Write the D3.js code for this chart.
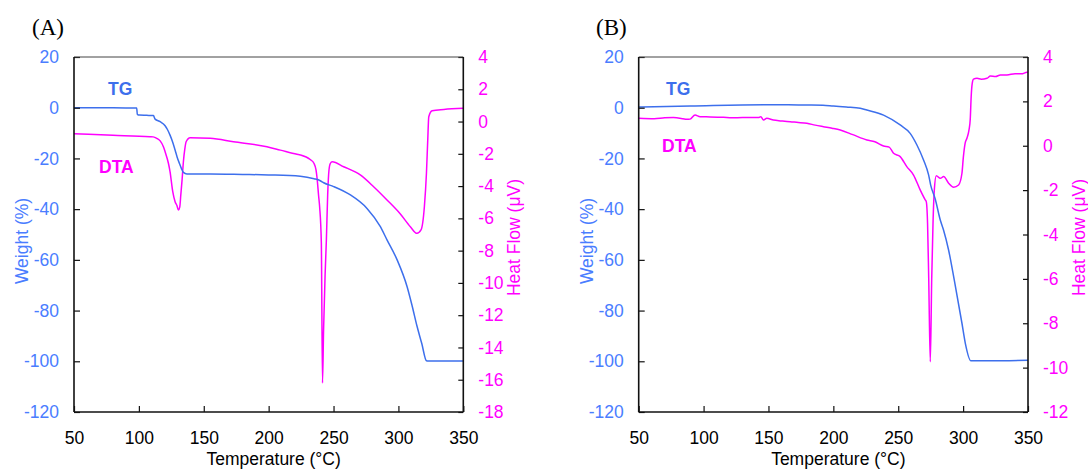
<!DOCTYPE html>
<html>
<head>
<meta charset="utf-8">
<script src="https://cdn.jsdelivr.net/npm/d3@7"></script>
<style>
  html, body { margin: 0; padding: 0; background: #fff; }
  svg { display: block; }
</style>
</head>
<body>
<svg id="chart" width="1088" height="473"></svg>
<script>
// ---- shared ticks ----
const tempTicks = [50, 100, 150, 200, 250, 300, 350];
const weightTicks = [20, 0, -20, -40, -60, -80, -100, -120];
const heatTicksA = [4, 2, 0, -2, -4, -6, -8, -10, -12, -14, -16, -18];
const heatTicksB = [4, 2, 0, -2, -4, -6, -8, -10, -12];

// ---- panel A: TG (weight %) ----
const aTgTemp = [50, 70, 90, 98.3, 98.8, 100.4, 106, 111.2, 112.5, 116.4, 120.2, 122, 124, 126, 127.9, 129.5, 131.2, 132.8, 134.3, 137, 155, 180, 200, 224.4, 235, 239.8, 242.4, 250.1, 263, 275.8, 286.1, 291.2, 299, 306.7, 310.5, 314.4, 318, 321.6, 323, 335, 350];
const aTgWeight = [0, 0, -0.1, -0.1, -2.6, -2.9, -3.0, -3.1, -4.5, -5.5, -7.1, -8.6, -10.8, -13.5, -16.7, -19.5, -21.9, -24, -25.5, -26.1, -26.1, -26.3, -26.5, -27.0, -28.0, -28.8, -29.6, -31.1, -34.4, -39.7, -46.9, -52.1, -60, -70.6, -78, -86.3, -93, -99.8, -99.9, -99.9, -99.9];

// ---- panel A: DTA (heat flow, µV) ----
const aDtaTemp = [50, 80, 108.6, 111, 113.8, 116.4, 118.9, 120.2, 122.8, 124, 126.1, 127.9, 129.3, 130.5, 131.5, 132.3, 133.3, 134.3, 135.4, 136.4, 139.5, 155, 172.9, 198.7, 209, 221.8, 224.4, 232, 235, 236.5, 237.3, 238.5, 239.3, 240.6, 241.5, 242.3, 243.5, 244.5, 245.5, 246.5, 247.5, 249, 257.8, 270.6, 280.9, 291.2, 301.5, 309.2, 314.3, 317.4, 320, 321.6, 322.6, 323.4, 326, 335, 350];
const aDtaHeat = [-0.76, -0.85, -0.94, -0.95, -1.04, -1.2, -1.56, -1.87, -2.6, -3.1, -4.35, -4.97, -5.2, -5.48, -5.3, -4.55, -3.6, -2.49, -1.7, -1.25, -1.0, -1.04, -1.25, -1.56, -1.77, -2.03, -2.07, -2.35, -2.6, -3.0, -3.5, -4.6, -5.3, -7.5, -16.2, -13, -9.5, -7.3, -4.5, -3.0, -2.6, -2.49, -2.8, -3.31, -4.04, -4.86, -5.73, -6.52, -6.93, -6.72, -5.28, -3.2, -1.15, 0.3, 0.67, 0.75, 0.82];

// ---- panel B: TG (weight %) ----
const bTgTemp = [50, 90, 150, 175, 192, 200, 210, 220.7, 225.8, 238.7, 251.5, 259.2, 264.4, 269.5, 273.4, 275, 278.5, 282.4, 284.9, 288.8, 293.2, 299.1, 301.7, 306, 320, 350];
const bTgWeight = [0.3, 0.7, 1.2, 1.06, 1.0, 0.67, 0.3, -0.2, -0.9, -2.9, -6.8, -10.1, -14.7, -20.6, -26.5, -30.5, -36.0, -44.3, -48.2, -56.1, -68, -85, -92.9, -99.8, -99.8, -99.6];

// ---- panel B: DTA (heat flow, µV) ----
const bDtaTemp = [50, 62, 70, 76.7, 84, 87, 89.6, 93.4, 97.3, 105, 115.3, 122, 130, 142.3, 144.1, 146.2, 148.7, 153.8, 160, 166.7, 173, 179.6, 186, 192.4, 199, 205.3, 215, 225.8, 232, 238.7, 243, 246.4, 251.5, 256.6, 261.8, 266.9, 270.8, 271.6, 272.6, 273.5, 274.7, 275.8, 276.8, 277.8, 279.3, 282.4, 285, 288.8, 292.7, 296.5, 299.1, 300.2, 301.5, 303, 304.5, 305.5, 306.2, 307, 308, 310.7, 314, 318.4, 321, 325, 328.7, 333.8, 340, 345, 349.2, 350];
const bDtaHeat = [1.24, 1.22, 1.26, 1.27, 1.22, 1.19, 1.2, 1.39, 1.31, 1.3, 1.28, 1.26, 1.27, 1.27, 1.31, 1.16, 1.24, 1.16, 1.12, 1.08, 1.05, 1.01, 0.93, 0.86, 0.79, 0.71, 0.5, 0.26, 0.18, -0.01, -0.06, -0.34, -0.49, -0.94, -1.32, -1.99, -2.44, -2.52, -3.5, -6.0, -9.73, -6.0, -3.5, -2.0, -1.35, -1.47, -1.39, -1.69, -1.87, -1.77, -1.24, -0.5, 0.1, 0.35, 0.7, 1.2, 2.2, 2.8, 3.0, 3.04, 3.0, 3.04, 3.14, 3.12, 3.19, 3.19, 3.25, 3.24, 3.31, 3.3];

// ---- style ----
const tgColor = "#3d6fec";
const tgText = "#4a7dff";
const dtaColor = "#ff00ff";
const fontSize = 17.5;
const sans = '"Liberation Sans", Arial, sans-serif';
const serif = '"Liberation Serif", "Times New Roman", serif';

const svg = d3.select("#chart");

const plotTop = 57, plotHeight = 355, plotWidth = 389.3;
const plainNum = d => String(d);   // hyphen-minus, as in the original plots

function drawPanel(opts) {
  const left = opts.left;
  const right = left + plotWidth;
  const bottom = plotTop + plotHeight;
  const g = svg.append("g");

  const x = d3.scaleLinear().domain([50, 350]).range([left, right]);
  const yW = d3.scaleLinear().domain([-120, 20]).range([bottom, plotTop]);
  const yH = d3.scaleLinear().domain(opts.heatDomain).range([bottom, plotTop]);

  // curves
  const tgLine = d3.line().curve(d3.curveMonotoneX)
    .x((d, i) => x(opts.tgTemp[i])).y(d => yW(d));
  const dtaLine = d3.line().curve(d3.curveMonotoneX)
    .x((d, i) => x(opts.dtaTemp[i])).y(d => yH(d));

  g.append("path").attr("d", dtaLine(opts.dtaHeat))
    .attr("fill", "none").attr("stroke", dtaColor).attr("stroke-width", 1.5)
    .attr("stroke-linejoin", "round");
  g.append("path").attr("d", tgLine(opts.tgWeight))
    .attr("fill", "none").attr("stroke", tgColor).attr("stroke-width", 1.5)
    .attr("stroke-linejoin", "round");

  // axes
  const ax = g.append("g").attr("transform", `translate(0,${bottom})`)
    .call(d3.axisBottom(x).tickValues(tempTicks).tickFormat(plainNum)
      .tickSize(-6).tickPadding(20).tickSizeOuter(0));
  ax.selectAll("text").attr("fill", "#000");

  const ayL = g.append("g").attr("transform", `translate(${left},0)`)
    .call(d3.axisLeft(yW).tickValues(weightTicks).tickFormat(plainNum)
      .tickSize(-6).tickPadding(15).tickSizeOuter(0));
  ayL.selectAll("text").attr("fill", tgText);

  const ayR = g.append("g").attr("transform", `translate(${right},0)`)
    .call(d3.axisRight(yH).tickValues(opts.heatTicks).tickFormat(plainNum)
      .tickSize(-5).tickPadding(15).tickSizeOuter(0));
  ayR.selectAll("text").attr("fill", dtaColor);

  [ax, ayL, ayR].forEach(a => {
    a.attr("font-family", null).attr("font-size", null);
    a.select(".domain").remove();
    a.selectAll("line").attr("stroke", "#111").attr("stroke-width", 1.2);
    a.selectAll("text").style("font-size", fontSize + "px").style("font-family", sans);
  });

  // frame
  g.append("line").attr("x1", left).attr("x2", right).attr("y1", plotTop).attr("y2", plotTop)
    .attr("stroke", "#444").attr("stroke-width", 1);
  g.append("line").attr("x1", left).attr("x2", right).attr("y1", bottom).attr("y2", bottom)
    .attr("stroke", "#111").attr("stroke-width", 1.6);
  g.append("line").attr("x1", left).attr("x2", left).attr("y1", plotTop).attr("y2", bottom)
    .attr("stroke", "#111").attr("stroke-width", 1.6);
  g.append("line").attr("x1", right).attr("x2", right).attr("y1", plotTop).attr("y2", bottom)
    .attr("stroke", "#111").attr("stroke-width", 1.6);

  // axis titles
  g.append("text").attr("x", (left + right) / 2 + 5).attr("y", 465)
    .attr("text-anchor", "middle").style("font-size", fontSize + "px").style("font-family", sans)
    .attr("fill", "#000").text("Temperature (°C)");
  g.append("text").attr("transform", `translate(${left - 46},241) rotate(-90)`)
    .attr("text-anchor", "middle").style("font-size", fontSize + "px").style("font-family", sans)
    .attr("fill", tgText).text("Weight (%)");
  g.append("text").attr("transform", `translate(${right + 57},237.5) rotate(-90)`)
    .attr("text-anchor", "middle").style("font-size", fontSize + "px").style("font-family", sans)
    .attr("fill", dtaColor).text("Heat Flow (μV)");

  // panel tag
  g.append("text").attr("x", opts.tagX).attr("y", 35)
    .style("font-family", serif).style("font-size", "23px")
    .attr("fill", "#000").text(opts.tag);

  // series names
  g.append("text").attr("x", opts.tgLabel[0]).attr("y", opts.tgLabel[1])
    .style("font-family", sans).style("font-size", "17.5px").style("font-weight", "bold")
    .attr("fill", tgColor).text("TG");
  g.append("text").attr("x", opts.dtaLabel[0]).attr("y", opts.dtaLabel[1])
    .style("font-family", sans).style("font-size", "17.5px").style("font-weight", "bold")
    .attr("fill", dtaColor).text("DTA");
}

drawPanel({
  left: 74, tag: "(A)", tagX: 32,
  heatDomain: [-18, 4], heatTicks: heatTicksA,
  tgTemp: aTgTemp, tgWeight: aTgWeight,
  dtaTemp: aDtaTemp, dtaHeat: aDtaHeat,
  tgLabel: [108, 95], dtaLabel: [99, 173]
});

drawPanel({
  left: 638.7, tag: "(B)", tagX: 596,
  heatDomain: [-12, 4], heatTicks: heatTicksB,
  tgTemp: bTgTemp, tgWeight: bTgWeight,
  dtaTemp: bDtaTemp, dtaHeat: bDtaHeat,
  tgLabel: [666, 95], dtaLabel: [662, 152]
});
</script>
</body>
</html>
